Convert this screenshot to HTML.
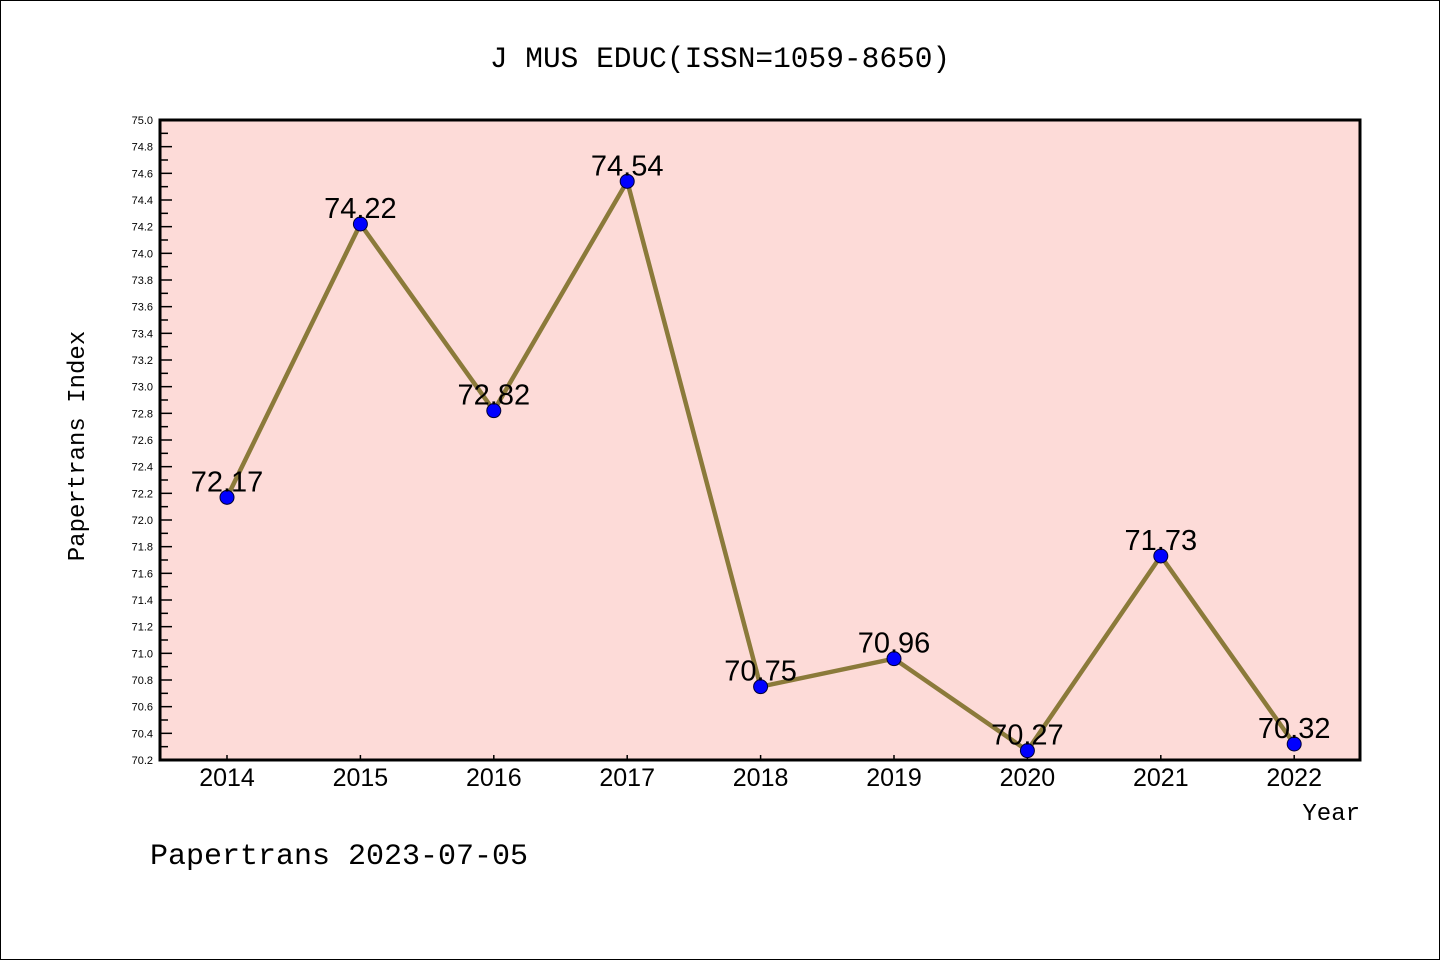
<!DOCTYPE html>
<html><head><meta charset="utf-8"><style>
body{margin:0;background:#fff}
svg{display:block;font-family:"Liberation Sans","WenQuanYi Zen Hei",sans-serif}
</style></head><body>
<svg width="1440" height="960">
<rect x="0.5" y="0.5" width="1439" height="959" fill="#fff" stroke="#000"/>
<text x="720" y="67" text-anchor="middle" font-size="29.5" font-family="'Liberation Mono',monospace">J MUS EDUC(ISSN=1059-8650)</text>
<rect x="160" y="120" width="1200" height="640" fill="#fddbd8"/>
<g id="yaxis"></g><g id="xaxis"></g>
<g id="series"></g>
<rect x="160" y="120" width="1200" height="640" fill="none" stroke="#000" stroke-width="3"/>
<text transform="translate(84,446) rotate(-90)" text-anchor="middle" font-size="24" font-family="'Liberation Mono',monospace">Papertrans Index</text>
<text x="1360" y="820" text-anchor="end" font-size="24" font-family="'Liberation Mono',monospace">Year</text>
<text x="150" y="864" font-size="30" font-family="'Liberation Mono',monospace">Papertrans 2023-07-05</text>
</svg>
<script>
const years=[2014,2015,2016,2017,2018,2019,2020,2021,2022];
const values=[72.17,74.22,72.82,74.54,70.75,70.96,70.27,71.73,70.32];
const labels=["72.17","74.22","72.82","74.54","70.75","70.96","70.27","71.73","70.32"];
const yMin=70.2,yMax=75.0;
const NS="http://www.w3.org/2000/svg";
const xs=i=>227+i*133.4;
const ys=v=>760-(v-yMin)/(yMax-yMin)*640;
function mk(t,a,p){const e=document.createElementNS(NS,t);for(const k in a)e.setAttribute(k,a[k]);p.appendChild(e);return e;}
const ya=document.getElementById('yaxis');
for(let k=0;k<=48;k++){const v=yMin+k*0.1;const y=ys(v);const major=k%2==0;
const l=mk('line',{x1:160,x2:major?172:168,y1:y,y2:y,stroke:'#000','stroke-width':1.5},ya);


if(major){const t=mk('text',{x:153,y:y+4,'text-anchor':'end','font-size':11},ya);t.textContent=v.toFixed(1);

}}
const xa=document.getElementById('xaxis');
years.forEach((yr,i)=>{const x=xs(i);
const l=mk('line',{x1:x,x2:x,y1:760,y2:755,stroke:'#000','stroke-width':1.5},xa);


const t=mk('text',{x:x,y:786,'text-anchor':'middle','font-size':25},xa);t.textContent=yr;

});
const s=document.getElementById('series');
const pl=mk('polyline',{points:values.map((v,i)=>xs(i)+','+ys(v)).join(' '),fill:'none',stroke:'#8b7a3a','stroke-width':4.5,'stroke-linejoin':'round'},s);


values.forEach((v,i)=>{
const c=mk('circle',{cx:xs(i),cy:ys(v),r:7,fill:'#0000ff',stroke:'#000033','stroke-width':1},s);


const t=mk('text',{x:xs(i),y:ys(v)-6,'text-anchor':'middle','font-size':29},s);t.textContent=labels[i];

});
</script>
</body></html>
